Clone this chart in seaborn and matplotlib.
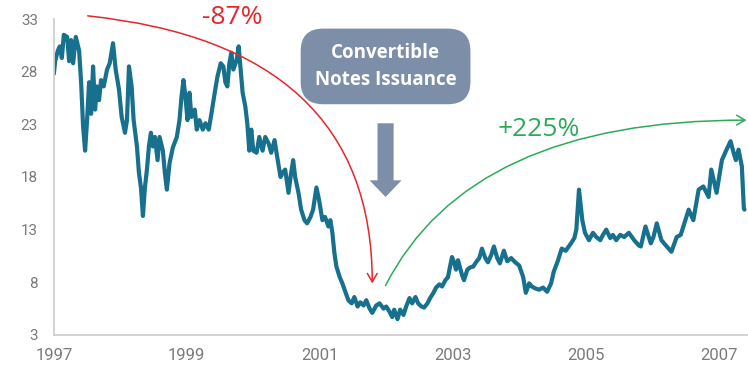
import pandas as pd
import matplotlib.pyplot as plt
import seaborn as sns

# share price (decimal year, price)
dates = [
    1997.00, 1997.02, 1997.06, 1997.09, 1997.12, 1997.15, 1997.20, 1997.23, 1997.26, 1997.29,
    1997.33, 1997.38, 1997.41, 1997.44, 1997.47, 1997.50, 1997.53, 1997.56, 1997.59, 1997.62,
    1997.65, 1997.68, 1997.71, 1997.75, 1997.80, 1997.84, 1997.89, 1997.93, 1997.98, 1998.02,
    1998.07, 1998.10, 1998.13, 1998.17, 1998.20, 1998.25, 1998.28, 1998.31, 1998.34, 1998.37,
    1998.40, 1998.43, 1998.46, 1998.49, 1998.52, 1998.56, 1998.59, 1998.64, 1998.67, 1998.70,
    1998.74, 1998.79, 1998.85, 1998.89, 1998.92, 1998.95, 1998.98, 1999.01, 1999.04, 1999.07,
    1999.12, 1999.15, 1999.19, 1999.24, 1999.28, 1999.33, 1999.37, 1999.42, 1999.46, 1999.51,
    1999.55, 1999.58, 1999.61, 1999.64, 1999.67, 1999.70, 1999.75, 1999.78, 1999.81, 1999.84,
    1999.88, 1999.91, 1999.94, 1999.97, 2000.00, 2000.05, 2000.09, 2000.14, 2000.18, 2000.23,
    2000.27, 2000.32, 2000.36, 2000.41, 2000.44, 2000.48, 2000.53, 2000.57, 2000.60, 2000.63,
    2000.68, 2000.72, 2000.77, 2000.81, 2000.86, 2000.90, 2000.95, 2000.99, 2001.04, 2001.08,
    2001.13, 2001.16, 2001.19, 2001.22, 2001.25, 2001.30, 2001.34, 2001.39, 2001.43, 2001.48,
    2001.52, 2001.57, 2001.61, 2001.66, 2001.70, 2001.75, 2001.79, 2001.85, 2001.90, 2001.96,
    2002.00, 2002.05, 2002.09, 2002.12, 2002.17, 2002.21, 2002.26, 2002.30, 2002.35, 2002.39,
    2002.44, 2002.48, 2002.53, 2002.57, 2002.62, 2002.66, 2002.71, 2002.75, 2002.80, 2002.84,
    2002.89, 2002.93, 2002.96, 2002.99, 2003.02, 2003.05, 2003.08, 2003.11, 2003.14, 2003.17,
    2003.22, 2003.26, 2003.31, 2003.35, 2003.40, 2003.44, 2003.49, 2003.53, 2003.58, 2003.62,
    2003.67, 2003.71, 2003.77, 2003.82, 2003.88, 2003.94, 2004.00, 2004.06, 2004.10, 2004.15,
    2004.19, 2004.25, 2004.30, 2004.36, 2004.42, 2004.48, 2004.52, 2004.58, 2004.64, 2004.70,
    2004.78, 2004.83, 2004.86, 2004.90, 2004.95, 2004.99, 2005.05, 2005.11, 2005.16, 2005.22,
    2005.26, 2005.31, 2005.37, 2005.41, 2005.46, 2005.52, 2005.58, 2005.65, 2005.73, 2005.80,
    2005.83, 2005.90, 2005.98, 2006.02, 2006.07, 2006.14, 2006.22, 2006.29, 2006.37, 2006.43,
    2006.47, 2006.55, 2006.62, 2006.70, 2006.77, 2006.85, 2006.89, 2006.97, 2007.05, 2007.12,
    2007.18, 2007.23, 2007.26, 2007.30, 2007.35, 2007.38, 2007.39,
]
price = [
    27.8, 29.0, 30.0, 30.4, 29.3, 31.5, 31.3, 29.0, 31.0, 28.8,
    31.3, 30.0, 27.0, 22.8, 20.5, 23.4, 27.0, 24.0, 28.5, 24.4,
    26.6, 25.3, 27.2, 26.6, 28.2, 28.8, 30.7, 28.2, 26.3, 23.7,
    22.2, 23.4, 28.5, 26.6, 23.4, 20.9, 18.4, 17.0, 14.3, 17.0,
    18.7, 20.9, 22.2, 20.9, 21.8, 19.6, 21.8, 20.5, 18.4, 16.8,
    19.3, 20.8, 21.8, 23.4, 25.6, 27.2, 25.6, 23.4, 26.0, 23.7,
    24.4, 22.5, 23.4, 22.5, 23.1, 22.5, 24.0, 26.0, 27.5, 28.8,
    28.5, 27.0, 26.6, 28.8, 29.8, 28.2, 29.1, 30.4, 28.2, 26.0,
    24.7, 23.1, 20.5, 22.5, 20.5, 20.3, 21.8, 20.5, 21.8, 21.2,
    20.3, 21.5, 19.9, 18.0, 18.4, 18.7, 16.5, 18.4, 19.6, 18.0,
    16.5, 14.9, 13.9, 13.6, 14.2, 14.9, 17.0, 15.8, 13.9, 14.2,
    13.3, 13.9, 12.7, 10.8, 9.5, 8.5, 7.9, 7.0, 6.3, 6.0,
    6.6, 5.7, 6.1, 5.8, 6.3, 5.5, 5.1, 5.8, 6.0, 5.5,
    5.7, 5.2, 4.7, 5.4, 4.5, 5.4, 4.9, 5.7, 6.5, 6.0,
    6.6, 6.0, 5.7, 5.6, 6.0, 6.5, 7.0, 7.5, 7.8, 7.6,
    8.2, 8.5, 9.5, 10.4, 9.9, 9.2, 10.1, 9.4, 8.7, 8.2,
    9.2, 9.4, 9.5, 9.9, 10.3, 11.2, 10.3, 9.9, 10.6, 11.4,
    10.3, 9.8, 11.0, 10.0, 10.3, 9.9, 9.6, 8.5, 7.0, 7.9,
    7.6, 7.4, 7.3, 7.5, 7.1, 7.9, 9.0, 10.0, 11.2, 11.0,
    11.7, 12.2, 13.0, 16.8, 13.9, 12.7, 12.0, 12.7, 12.3, 12.0,
    12.5, 13.0, 12.2, 12.5, 12.0, 12.5, 12.3, 12.7, 12.0, 11.5,
    11.4, 13.3, 11.7, 12.3, 13.6, 12.0, 11.4, 10.9, 12.3, 12.5,
    13.3, 14.9, 13.9, 16.8, 17.1, 16.1, 18.7, 16.5, 19.6, 20.6,
    21.4, 20.2, 19.6, 20.6, 19.0, 15.0, 14.9,
]

year_ticks = list(range(1997, 2008))
year_labels = [str(y) if y % 2 == 1 else "" for y in year_ticks]
price_ticks = [3, 8, 13, 18, 23, 28, 33]

LINE = "#17708d"
GREY = "#7a7a7a"
SLATE = "#7d8ea9"

sns.set_style("white")
plt.rcParams["font.family"] = ["Roboto", "DejaVu Sans"]

df = pd.DataFrame({"date": dates, "price": price})

fig = plt.figure(figsize=(7.48, 3.73), dpi=100)
ax = fig.add_axes([0.072, 0.102, 0.926, 0.847])
sns.lineplot(data=df, x="date", y="price", estimator=None, color=LINE,
             linewidth=3.0, ax=ax)

ax.set_xlim(1997, 2007.42)
ax.set_ylim(3, 33)
ax.set_xticks(year_ticks)
ax.set_xticklabels(year_labels)
ax.set_yticks(price_ticks)
ax.set_xlabel("")
ax.set_ylabel("")
sns.despine(ax=ax)
for side in ["left", "bottom"]:
    ax.spines[side].set_color("#cfcfcf")
    ax.spines[side].set_linewidth(1.3)
ax.tick_params(axis="both", which="both", direction="out", length=4.5,
               width=1.2, color="#cfcfcf", labelcolor=GREY)
ax.tick_params(axis="y", pad=7, labelsize=11)
ax.tick_params(axis="x", pad=5, labelsize=12)

# drop before the notes
ax.annotate("", xy=(2001.79, 7.9), xytext=(1997.51, 33.3),
            arrowprops=dict(arrowstyle="->,head_length=0.6,head_width=0.35",
                            color="#e5262b", lw=1.1, shrinkA=0, shrinkB=0,
                            connectionstyle="angle3,angleA=-6,angleB=90"),
            annotation_clip=False)
ax.text(1999.69, 33.1, "-87%", color="#e5262b", fontsize=19,
        family=["Open Sans", "DejaVu Sans"], ha="center", va="center")

# recovery after the notes
ax.annotate("", xy=(2007.42, 23.4), xytext=(2001.99, 7.7),
            arrowprops=dict(arrowstyle="->,head_length=0.6,head_width=0.35",
                            color="#2bab5a", lw=1.1, shrinkA=0, shrinkB=0,
                            connectionstyle="angle3,angleA=63,angleB=0"),
            annotation_clip=False)
ax.text(2004.30, 22.5, "+225%", color="#2bab5a", fontsize=19,
        family=["Open Sans", "DejaVu Sans"], ha="center", va="center")

# issuance call-out
ax.text(2001.99, 28.5, "Convertible\nNotes Issuance", color="white",
        fontsize=13.5, fontweight="bold", family=["Open Sans", "DejaVu Sans"],
        ha="center", va="center", linespacing=1.5,
        bbox=dict(boxstyle="round,pad=0.75,rounding_size=1.2", fc=SLATE,
                  ec="none"))
ax.annotate("", xy=(2001.99, 16.1), xytext=(2001.99, 23.1),
            arrowprops=dict(arrowstyle="simple,head_length=0.6,head_width=1.15,tail_width=0.58",
                            mutation_scale=20, fc=SLATE, ec="none",
                            shrinkA=0, shrinkB=0))

fig.savefig("out.png", dpi=100)
